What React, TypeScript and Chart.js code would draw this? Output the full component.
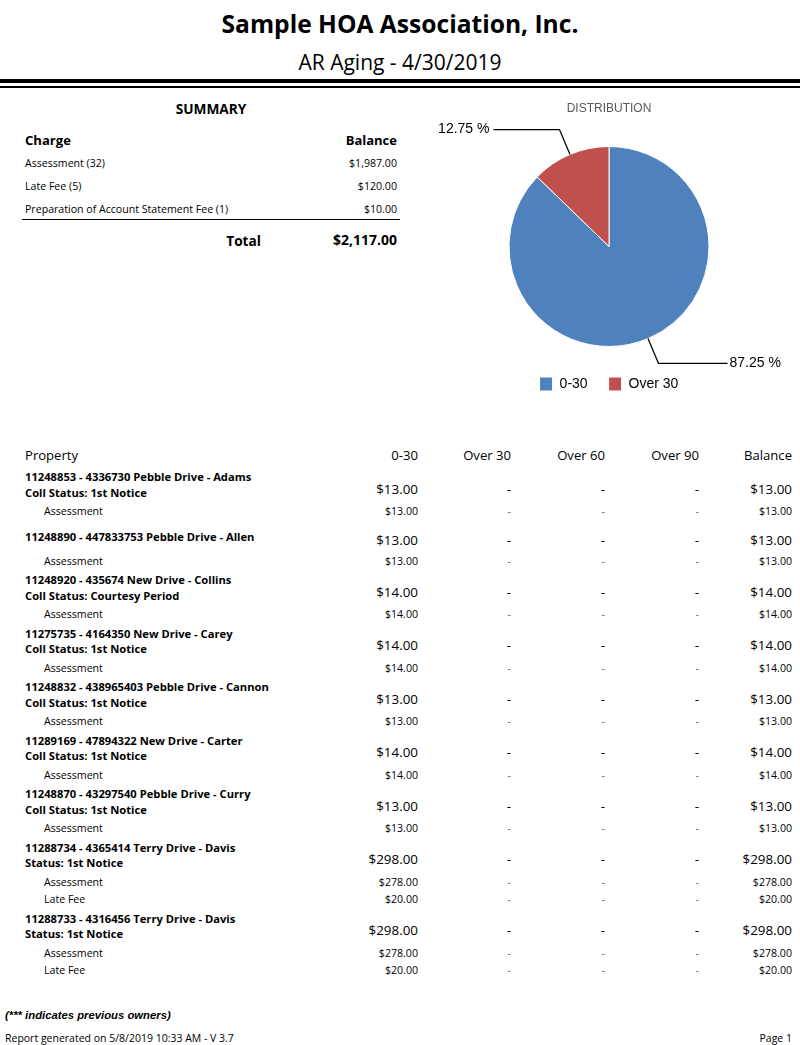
import React, { useEffect, useRef } from 'react';
import { Chart, registerables } from 'chart.js';

Chart.register(...registerables);

// ---------- data ----------
const reportTitle = 'Sample HOA Association, Inc.';
const reportSubtitle = 'AR Aging - 4/30/2019';

const pieLabels = ['0-30', 'Over 30'];
const pieValues = [87.25, 12.75];
const pieColors = ['#4F81BD', '#C0504D'];

const summaryCharges = ['Assessment (32)', 'Late Fee (5)', 'Preparation of Account Statement Fee (1)'];
const summaryBalances = [1987, 120, 10];
const summaryTotal = 2117;

const agingColumns = ['0-30', 'Over 30', 'Over 60', 'Over 90', 'Balance'];

const propertyNames = [
  '11248853 - 4336730 Pebble Drive - Adams',
  '11248890 - 447833753 Pebble Drive - Allen',
  '11248920 - 435674 New Drive - Collins',
  '11275735 - 4164350 New Drive - Carey',
  '11248832 - 438965403 Pebble Drive - Cannon',
  '11289169 - 47894322 New Drive - Carter',
  '11248870 - 43297540 Pebble Drive - Curry',
  '11288734 - 4365414 Terry Drive - Davis',
  '11288733 - 4316456 Terry Drive - Davis',
];
const propertyStatuses = [
  'Coll Status: 1st Notice',
  '',
  'Coll Status: Courtesy Period',
  'Coll Status: 1st Notice',
  'Coll Status: 1st Notice',
  'Coll Status: 1st Notice',
  'Coll Status: 1st Notice',
  'Status: 1st Notice',
  'Status: 1st Notice',
];
const property0to30 = [13, 13, 14, 14, 13, 14, 13, 298, 298];
const propertyOver30 = [0, 0, 0, 0, 0, 0, 0, 0, 0];
const propertyOver60 = [0, 0, 0, 0, 0, 0, 0, 0, 0];
const propertyOver90 = [0, 0, 0, 0, 0, 0, 0, 0, 0];
const propertyBalance = [13, 13, 14, 14, 13, 14, 13, 298, 298];

const chargeTypes = [
  ['Assessment'],
  ['Assessment'],
  ['Assessment'],
  ['Assessment'],
  ['Assessment'],
  ['Assessment'],
  ['Assessment'],
  ['Assessment', 'Late Fee'],
  ['Assessment', 'Late Fee'],
];
const charge0to30 = [[13], [13], [14], [14], [13], [14], [13], [278, 20], [278, 20]];
const chargeBalance = [[13], [13], [14], [14], [13], [14], [13], [278, 20], [278, 20]];

const footnote = '(*** indicates previous owners)';
const generatedText = 'Report generated on 5/8/2019 10:33 AM - V 3.7';
const pageText = 'Page 1';

// ---------- helpers ----------
const FONT = "'Open Sans', 'Noto Sans', sans-serif";
const ARIAL = "'Liberation Sans', Arial, sans-serif";

const money = (v: number) =>
  '$' + v.toLocaleString('en-US', { minimumFractionDigits: 2, maximumFractionDigits: 2 });
const cell = (v: number) => (v === 0 ? '-' : money(v));

type TP = {
  x: number;
  y: number;
  children: React.ReactNode;
  size: number;
  bold?: boolean;
  italic?: boolean;
  align?: 'left' | 'right' | 'center';
  family?: string;
  color?: string;
};

function T({ x, y, children, size, bold, italic, align = 'left', family = FONT, color = '#000' }: TP) {
  const lh = Math.round(size * 1.4);
  const style: React.CSSProperties = {
    position: 'absolute',
    top: y - lh / 2,
    lineHeight: lh + 'px',
    height: lh,
    fontSize: size,
    fontWeight: bold ? 700 : 400,
    fontStyle: italic ? 'italic' : 'normal',
    fontFamily: family,
    color,
    whiteSpace: 'nowrap',
  };
  if (align === 'left') style.left = x;
  else if (align === 'right') style.right = 800 - x;
  else {
    style.left = x - 300;
    style.width = 600;
    style.textAlign = 'center';
  }
  return <div style={style}>{children}</div>;
}

const leaderPlugin = {
  id: 'leaderLabels',
  afterDatasetsDraw(chart: any) {
    const meta = chart.getDatasetMeta(0);
    const ctx = chart.ctx as CanvasRenderingContext2D;
    const values = chart.data.datasets[0].data as number[];
    meta.data.forEach((arc: any, i: number) => {
      const p = arc.getProps(['x', 'y', 'startAngle', 'endAngle', 'outerRadius'], true);
      const mid = (p.startAngle + p.endAngle) / 2;
      const cos = Math.cos(mid);
      const sin = Math.sin(mid);
      const x1 = p.x + cos * p.outerRadius;
      const y1 = p.y + sin * p.outerRadius;
      const r2 = p.outerRadius * 1.27;
      const x2 = p.x + cos * r2;
      const y2 = p.y + sin * r2;
      const right = cos >= 0;
      const x3 = x2 + (right ? 69 : -66);
      ctx.save();
      ctx.strokeStyle = '#000';
      ctx.lineWidth = 1.3;
      ctx.beginPath();
      ctx.moveTo(x1, y1);
      ctx.lineTo(x2, y2);
      ctx.lineTo(x3, y2);
      ctx.stroke();
      ctx.fillStyle = '#000';
      ctx.font = '14px ' + ARIAL;
      ctx.textBaseline = 'middle';
      ctx.textAlign = right ? 'left' : 'right';
      ctx.fillText(values[i].toFixed(2) + ' %', x3 + (right ? 2 : -4), y2);
      ctx.restore();
    });
  },
};

function PieChart() {
  const ref = useRef<HTMLCanvasElement | null>(null);
  useEffect(() => {
    if (!ref.current) return;
    const chart = new Chart(ref.current, {
      type: 'pie',
      data: {
        labels: pieLabels,
        datasets: [
          {
            data: pieValues,
            backgroundColor: pieColors,
            borderColor: '#ffffff',
            borderWidth: 1,
            radius: 100,
          } as any,
        ],
      },
      options: {
        animation: false,
        responsive: false,
        events: [],
        plugins: {
          title: {
            display: true,
            text: 'DISTRIBUTION',
            color: '#595959',
            font: { family: ARIAL, size: 12, weight: 'normal' },
            padding: { top: 6, bottom: 21.6 },
          },
          legend: {
            position: 'bottom',
            labels: {
              boxWidth: 13,
              boxHeight: 14,
              padding: 21,
              color: '#000',
              font: { family: ARIAL, size: 14 },
            },
          },
          tooltip: { enabled: false },
        },
      },
      plugins: [leaderPlugin],
    });
    return () => chart.destroy();
  }, []);
  return (
    <canvas
      ref={ref}
      width={380}
      height={306}
      style={{ position: 'absolute', left: 419, top: 95, width: 380, height: 306 }}
    />
  );
}

export default function App() {
  const colRight = [418, 511, 605, 699, 792];

  // table rows layout
  const rows: React.ReactNode[] = [];
  let top = 475;
  propertyNames.forEach((name, i) => {
    const two = !!propertyStatuses[i];
    const H = two ? 28 : 24;
    const c = top + H / 2;
    const nameY = two ? c - 4 - 7.75 : c - 4;
    rows.push(
      <T key={'n' + i} x={25} y={nameY} size={11.2} bold>
        {name}
      </T>
    );
    if (two)
      rows.push(
        <T key={'s' + i} x={25} y={c - 4 + 7.75} size={11.2} bold>
          {propertyStatuses[i]}
        </T>
      );
    const big = [property0to30[i], propertyOver30[i], propertyOver60[i], propertyOver90[i], propertyBalance[i]];
    big.forEach((v, k) =>
      rows.push(
        <T key={'b' + i + '_' + k} x={colRight[k]} y={c} size={13.4} align="right">
          {cell(v)}
        </T>
      )
    );
    top += H;
    chargeTypes[i].forEach((ct, j) => {
      const sy = top + 8.75;
      rows.push(
        <T key={'c' + i + '_' + j} x={44} y={sy} size={10.6}>
          {ct}
        </T>
      );
      const small = [charge0to30[i][j], 0, 0, 0, chargeBalance[i][j]];
      small.forEach((v, k) =>
        rows.push(
          <T key={'v' + i + '_' + j + '_' + k} x={colRight[k]} y={sy} size={10.6} align="right" color={v === 0 ? '#666' : '#000'}>
            {cell(v)}
          </T>
        )
      );
      top += 17.5;
    });
    top += 8;
  });

  return (
    <div
      style={{
        position: 'absolute',
        left: 0,
        top: 0,
        width: 800,
        height: 1045,
        background: '#fff',
        overflow: 'hidden',
      }}
    >
      <T x={400} y={24} size={24.6} bold align="center">
        {reportTitle}
      </T>
      <T x={400} y={62} size={21} align="center">
        {reportSubtitle}
      </T>
      <div style={{ position: 'absolute', left: 0, top: 79, width: 800, height: 4, background: '#000' }} />
      <div style={{ position: 'absolute', left: 0, top: 86, width: 800, height: 2, background: '#000' }} />

      {/* summary */}
      <T x={211} y={108} size={13.7} bold align="center">
        SUMMARY
      </T>
      <T x={25} y={140} size={13.1} bold>
        Charge
      </T>
      <T x={397} y={140} size={13} bold align="right">
        Balance
      </T>
      {summaryCharges.map((c, i) => (
        <React.Fragment key={'sum' + i}>
          <T x={25} y={163 + i * 23} size={10.6}>
            {c}
          </T>
          <T x={397} y={163 + i * 23} size={10.6} align="right">
            {money(summaryBalances[i])}
          </T>
        </React.Fragment>
      ))}
      <div style={{ position: 'absolute', left: 22, top: 218.5, width: 378, height: 1.3, background: '#000' }} />
      <T x={261} y={240} size={13.7} bold align="right">
        Total
      </T>
      <T x={397} y={240} size={14} bold align="right">
        {money(summaryTotal)}
      </T>

      <PieChart />

      {/* aging table */}
      <T x={25} y={455} size={13.1}>
        Property
      </T>
      {agingColumns.map((col, k) => (
        <T key={'h' + k} x={colRight[k]} y={455} size={13.1} align="right">
          {col}
        </T>
      ))}
      {rows}

      {/* footer */}
      <T x={5} y={1015} size={11.3} bold italic family={ARIAL}>
        {footnote}
      </T>
      <T x={5} y={1038} size={10.5}>
        {generatedText}
      </T>
      <T x={792} y={1038} size={10.5} align="right">
        {pageText}
      </T>
    </div>
  );
}
